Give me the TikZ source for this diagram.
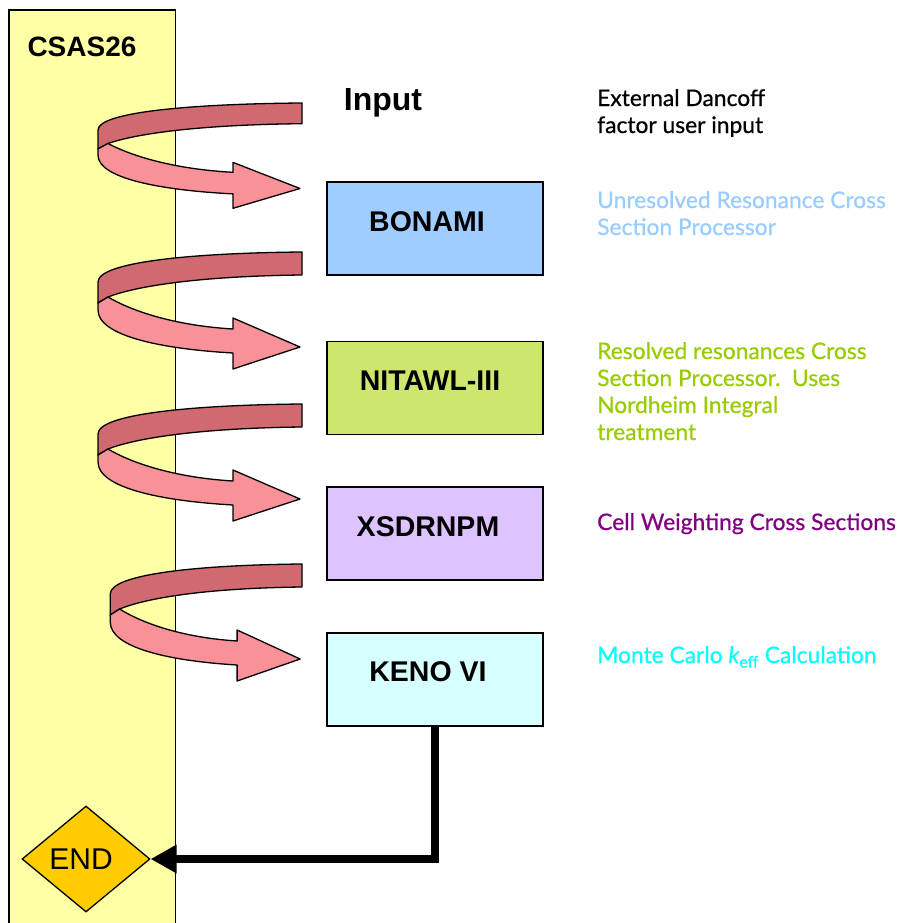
\documentclass[tikz,border=0pt]{standalone}
\usepackage{fontspec}
\setmainfont{Liberation Sans}
\newfontfamily\descfont[FakeBold=0.7]{Lato}
\usetikzlibrary{shapes.geometric,arrows.meta}
\definecolor{colyellow}{RGB}{255,255,165}
\definecolor{bonamic}{RGB}{160,205,255}
\definecolor{nitawlc}{RGB}{204,230,110}
\definecolor{xsdrc}{RGB}{221,195,255}
\definecolor{kenoc}{RGB}{215,255,255}
\definecolor{endc}{RGB}{255,204,0}
\definecolor{curldark}{RGB}{208,105,112}
\definecolor{curllight}{RGB}{248,145,152}
\definecolor{txtblue}{RGB}{153,204,255}
\definecolor{txtgreen}{RGB}{153,204,0}
\definecolor{txtpurple}{RGB}{128,0,128}
\definecolor{txtcyan}{RGB}{0,255,255}
\tikzset{
  progbox/.style={draw=black,line width=1.3pt,minimum width=216pt,minimum height=93pt,inner sep=0pt},
  progtext/.style={font=\fontsize{28.5}{30}\selectfont\bfseries,inner sep=0pt},
  desc/.style={font=\descfont\fontsize{22.8}{27}\selectfont,align=left,inner sep=0pt,anchor=base west},
  curl/.pic={
    \filldraw[fill=curldark,draw=black,line width=1.3pt,line join=round]
      (0,0) .. controls (-110,1) and (-204,10) .. (-204,30) -- (-204,51) -- (-194,45)
      .. controls (-160,32) and (-90,24) .. (0,23) -- cycle;
    \filldraw[fill=curllight,draw=black,line width=1.3pt,line join=round]
      (-194,45) .. controls (-165,62) and (-120,74) .. (-69,77) -- (-69,66) -- (-2,95)
      -- (-69,117) -- (-69,101) .. controls (-140,97) and (-204,84) .. (-204,58) -- (-204,51) -- cycle;
  }
}
\begin{document}
\begin{tikzpicture}[x=1pt,y=-1pt]
\useasboundingbox (0,0) rectangle (898,923);
% column
\node[fill=colyellow,minimum width=166pt,minimum height=920pt,anchor=north west,inner sep=0pt] (col) at (9,10) {};
\draw[line width=1.3pt] (col.south west) |- (col.north east) -- (col.south east);
\node[font=\fontsize{28}{30}\selectfont\bfseries,inner sep=0pt] (csas) at (82,47) {CSAS26};
% input
\node[font=\fontsize{32}{34}\selectfont\bfseries,inner sep=0pt] (input) at (383,103) {Input};
% curls
\pic[yscale=0.9] at (302,103) {curl};
\pic at (302,252) {curl};
\pic at (302,404) {curl};
\pic[xscale=0.94] at (302,564) {curl};
% boxes
\node[progbox,fill=bonamic] (bonami) at (435,228.5) {};
\node[progtext] (bonamit) at (427,222) {BONAMI};
\node[progbox,fill=nitawlc] (nitawl) at (435,388) {};
\node[progtext] (nitawlt) at (430,381) {NITAWL-III};
\node[progbox,fill=xsdrc] (xsdr) at (435,533.5) {};
\node[progtext] (xsdrt) at (428,527) {XSDRNPM};
\node[progbox,fill=kenoc] (keno) at (435,679.5) {};
\node[progtext] (kenot) at (428,672) {KENO VI};
% end
\node[draw=black,line width=1.3pt,fill=endc,diamond,aspect=1.2,minimum width=128pt,minimum height=106pt,inner sep=0pt,font=\fontsize{30}{32}\selectfont] (end) at (86,859) {};
\node[inner sep=0pt,font=\fontsize{30}{32}\selectfont] (endt) at (81,859) {END};
\draw[line width=8pt,-{Triangle[length=26pt,width=27pt]}] (keno.south) |- (end.east);
% descriptions
\node[desc] (d0) at (597,133) {External Dancoff\\factor user input};
\node[desc,text=txtblue] (d1) at (597,235) {Unresolved Resonance Cross\\Section Processor};
\node[desc,text=txtgreen] (d2) at (597,440) {Resolved resonances Cross\\Section Processor.\ \ Uses\\Nordheim Integral\\treatment};
\node[desc,text=txtpurple] (d3) at (597,530) {Cell Weighting Cross Sections};
\node[desc,text=txtcyan] (d4) at (597,663) {Monte Carlo \textit{k}\textsubscript{eff} Calculation};
\end{tikzpicture}
\end{document}
